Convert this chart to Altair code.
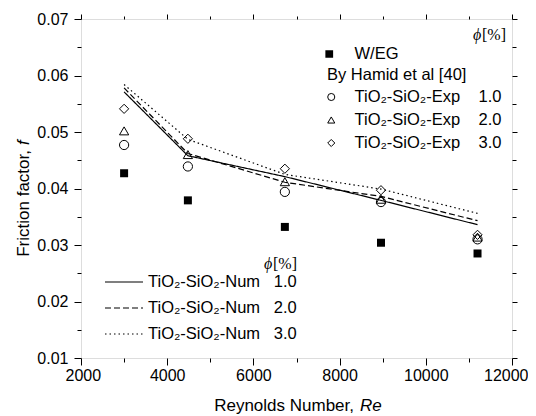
import altair as alt
import pandas as pd

# ---------------- data ----------------
re_vals = [3000, 4480, 6730, 8960, 11200]

f_weg = [0.0427, 0.0379, 0.0332, 0.0304, 0.0285]

f_exp_1 = [0.0477, 0.0439, 0.0394, 0.0376, 0.0310]
f_exp_2 = [0.0502, 0.0460, 0.0412, 0.0381, 0.0314]
f_exp_3 = [0.0541, 0.0488, 0.0435, 0.0397, 0.0318]

f_num_1 = [0.0571, 0.0458, 0.0421, 0.0379, 0.0336]
f_num_2 = [0.0578, 0.0462, 0.0411, 0.0386, 0.0343]
f_num_3 = [0.0584, 0.0487, 0.0425, 0.0399, 0.0356]

phi_values = ["1.0", "2.0", "3.0"]
NB = "\u00a0"
weg_label = "W/EG"
exp_labels = ["TiO\u2082-SiO\u2082-Exp" + NB * 4 + p for p in phi_values]
num_labels = ["TiO\u2082-SiO\u2082-Num" + NB * 3 + p for p in phi_values]
hamid_title = "By Hamid et al [40]"

x_ticks = [2000, 3000, 4000, 5000, 6000, 7000, 8000, 9000, 10000, 11000, 12000]
y_ticks = [0.01, 0.015, 0.02, 0.025, 0.03, 0.035, 0.04, 0.045, 0.05,
           0.055, 0.06, 0.065, 0.07]

x_title_main = "Reynolds Number,"
x_title_ital = "Re"
y_title_main = "Friction factor,"
y_title_ital = "f"
phi_sym = "\u03d5"
phi_unit = "[%]"

# ---------------- tables ----------------
df_weg = pd.DataFrame({"Re": re_vals, "f": f_weg, "series": weg_label})
df_exp = pd.concat([
    pd.DataFrame({"Re": re_vals, "f": v, "series": lab})
    for v, lab in zip([f_exp_1, f_exp_2, f_exp_3], exp_labels)
])
df_num = pd.concat([
    pd.DataFrame({"Re": re_vals, "f": v, "series": lab})
    for v, lab in zip([f_num_1, f_num_2, f_num_3], num_labels)
])

FONT = "Liberation Sans"
SERIF = "Liberation Serif"

x_scale = alt.Scale(domain=[2000, 12000], nice=False, zero=False)
y_scale = alt.Scale(domain=[0.01, 0.07], nice=False, zero=False)

MAJ_X = "datum.value % 2000 === 0"
MAJ_Y = "abs(datum.value * 100 - round(datum.value * 100)) < 0.001"

bottom_axis = alt.Axis(
    values=x_ticks, title=None, grid=False, domain=False,
    labelExpr=f"{MAJ_X} ? format(datum.value, 'd') : ''",
    tickSize={"condition": {"test": MAJ_X, "value": 7}, "value": 4},
    tickColor="black", tickWidth=1,
    labelFont=FONT, labelFontSize=16, labelColor="black",
    labelPadding=2, labelFlush=True, labelFlushOffset=16, labelOverlap=False,
)
left_axis = alt.Axis(
    values=y_ticks, title=None, grid=False, domain=False,
    labelExpr=f"{MAJ_Y} ? format(datum.value, '.2f') : ''",
    tickSize={"condition": {"test": MAJ_Y, "value": 7}, "value": 4},
    tickColor="black", tickWidth=1,
    labelFont=FONT, labelFontSize=16, labelColor="black",
    labelPadding=6, labelFlush=False, labelOverlap=False,
)
top_axis = alt.Axis(
    orient="top", values=x_ticks, title=None, grid=False, domain=False,
    labels=False,
    tickSize={"condition": {"test": MAJ_X, "value": 5}, "value": 3},
    tickColor="black", tickWidth=1,
)
right_axis = alt.Axis(
    orient="right", values=y_ticks, title=None, grid=False, domain=False,
    labels=False,
    tickSize={"condition": {"test": MAJ_Y, "value": 5}, "value": 4},
    tickColor="black", tickWidth=1,
)

# ---------------- layers ----------------
weg = alt.Chart(df_weg).mark_point(
    shape="square", filled=True, size=64, opacity=1, strokeWidth=0
).encode(
    x=alt.X("Re:Q", scale=x_scale, axis=bottom_axis),
    y=alt.Y("f:Q", scale=y_scale, axis=left_axis),
    fill=alt.Fill(
        "series:N",
        scale=alt.Scale(domain=[weg_label], range=["black"]),
        legend=alt.Legend(
            title=None, orient="none", legendX=240, legendY=26,
            symbolType="square", symbolSize=60, symbolStrokeWidth=0,
            symbolFillColor="black",
            labelFont=FONT, labelFontSize=16.5, labelColor="black",
            labelOffset=17, clipHeight=18,
        ),
    ),
)

exp = alt.Chart(df_exp).mark_point(
    filled=False, size=85, color="black", strokeWidth=1, opacity=1
).encode(
    x=alt.X("Re:Q", scale=x_scale, axis=None),
    y=alt.Y("f:Q", scale=y_scale, axis=None),
    shape=alt.Shape(
        "series:N",
        scale=alt.Scale(domain=exp_labels, range=["circle", "triangle-up", "diamond"]),
        legend=alt.Legend(
            title=None, orient="none", legendX=242, legendY=69,
            symbolSize=50, symbolStrokeColor="black", symbolFillColor="transparent",
            symbolStrokeWidth=1,
            labelFont=FONT, labelFontSize=16.5, labelColor="black",
            labelOffset=15, rowPadding=5, clipHeight=18,
        ),
    ),
)

nums = alt.Chart(df_num).mark_line(color="black", strokeWidth=1.2).encode(
    x=alt.X("Re:Q", scale=x_scale, axis=top_axis),
    y=alt.Y("f:Q", scale=y_scale, axis=right_axis),
    strokeDash=alt.StrokeDash(
        "series:N",
        scale=alt.Scale(domain=num_labels, range=[[1, 0], [6, 3], [1.5, 3]]),
        legend=alt.Legend(
            title=None, orient="none", legendX=23, legendY=254,
            symbolType="stroke", symbolSize=1444, symbolStrokeWidth=1.2,
            symbolStrokeColor="black",
            labelFont=FONT, labelFontSize=16.5, labelColor="black",
            labelOffset=4, rowPadding=8, clipHeight=18,
        ),
    ),
)


def label(text, x, y, font=FONT, size=17, style="normal", align="left",
          angle=0, baseline="alphabetic"):
    return alt.Chart(pd.DataFrame({"t": [text]})).mark_text(
        font=font, fontSize=size, fontStyle=style, align=align,
        baseline=baseline, angle=angle, color="black",
    ).encode(text="t:N", x=alt.value(x), y=alt.value(y))


texts = [
    label(x_title_main, 273, 392, align="right"),
    label(x_title_ital, 279, 392, style="italic", align="left"),
    label(y_title_main, -52, 131, align="right", angle=270),
    label(y_title_ital, -52, 126, style="italic", align="left", angle=270),
    label(hamid_title, 246, 61, size=16.5),
    label(phi_sym, 392, 21, font=SERIF, size=16, style="italic"),
    label(phi_unit, 401, 21, font=SERIF, size=16),
    label(phi_sym, 183, 249.5, font=SERIF, size=16, style="italic"),
    label(phi_unit, 192, 249.5, font=SERIF, size=16),
]

chart = alt.layer(nums, exp, weg, *texts).resolve_axis(
    x="independent", y="independent"
).properties(
    width=431, height=339,
    padding={"left": 73, "top": 11, "right": 16, "bottom": 58},
    autosize=alt.AutoSizeParams(type="none"),
).configure_view(
    stroke="black", strokeWidth=1
).configure(
    background="white"
)

chart.save("out.html", embed_options={"renderer": "svg", "actions": False})
